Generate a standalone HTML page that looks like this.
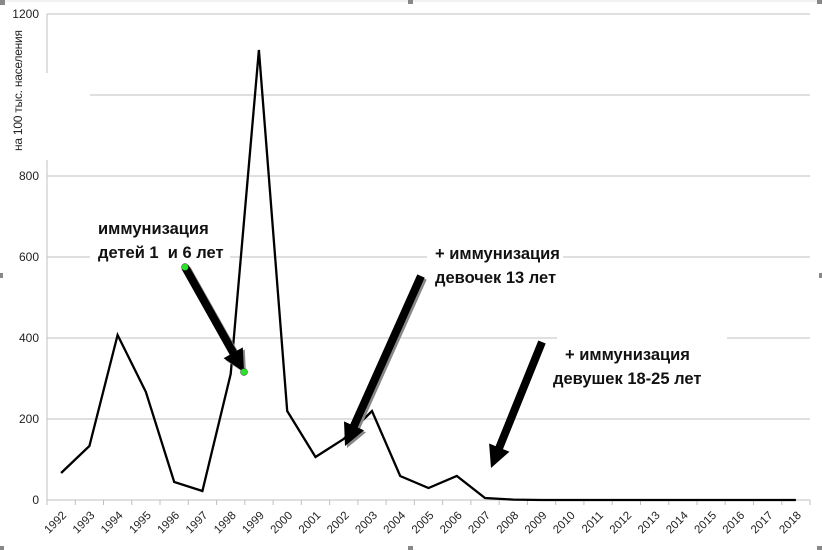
<!DOCTYPE html>
<html><head><meta charset="utf-8"><style>
html,body{margin:0;padding:0;background:#fff}
svg{display:block;font-family:"Liberation Sans",sans-serif}
.t{font-family:"Liberation Sans","DejaVu Sans",sans-serif;font-weight:bold;font-size:16.5px;fill:#111}
</style></head><body>
<svg width="822" height="550" viewBox="0 0 822 550" xmlns="http://www.w3.org/2000/svg">
<line x1="0" y1="1" x2="822" y2="1" stroke="#e4e4e4"/>
<g stroke="#c0c0c0" stroke-width="1">
<line x1="47" y1="14" x2="810" y2="14"/>
<line x1="47" y1="95" x2="810" y2="95"/>
<line x1="47" y1="176" x2="810" y2="176"/>
<line x1="47" y1="257" x2="810" y2="257"/>
<line x1="47" y1="338" x2="810" y2="338"/>
<line x1="47" y1="419" x2="810" y2="419"/>
<line x1="47" y1="500" x2="810" y2="500"/>
<line x1="47" y1="14" x2="47" y2="500"/>
</g>
<g stroke="#c0c0c0">
<line x1="47" y1="500" x2="47" y2="505"/><line x1="75.3" y1="500" x2="75.3" y2="505"/><line x1="103.5" y1="500" x2="103.5" y2="505"/><line x1="131.8" y1="500" x2="131.8" y2="505"/><line x1="160" y1="500" x2="160" y2="505"/><line x1="188.3" y1="500" x2="188.3" y2="505"/><line x1="216.6" y1="500" x2="216.6" y2="505"/><line x1="244.8" y1="500" x2="244.8" y2="505"/><line x1="273.1" y1="500" x2="273.1" y2="505"/><line x1="301.3" y1="500" x2="301.3" y2="505"/><line x1="329.6" y1="500" x2="329.6" y2="505"/><line x1="357.9" y1="500" x2="357.9" y2="505"/><line x1="386.1" y1="500" x2="386.1" y2="505"/><line x1="414.4" y1="500" x2="414.4" y2="505"/><line x1="442.6" y1="500" x2="442.6" y2="505"/><line x1="470.9" y1="500" x2="470.9" y2="505"/><line x1="499.2" y1="500" x2="499.2" y2="505"/><line x1="527.4" y1="500" x2="527.4" y2="505"/><line x1="555.7" y1="500" x2="555.7" y2="505"/><line x1="583.9" y1="500" x2="583.9" y2="505"/><line x1="612.2" y1="500" x2="612.2" y2="505"/><line x1="640.5" y1="500" x2="640.5" y2="505"/><line x1="668.7" y1="500" x2="668.7" y2="505"/><line x1="697" y1="500" x2="697" y2="505"/><line x1="725.2" y1="500" x2="725.2" y2="505"/><line x1="753.5" y1="500" x2="753.5" y2="505"/><line x1="781.8" y1="500" x2="781.8" y2="505"/><line x1="810" y1="500" x2="810" y2="505"/>
</g>
<rect x="10" y="73" width="80" height="87" fill="#fff"/>
<rect x="90" y="205" width="140" height="67" fill="#fff"/>
<rect x="427" y="238" width="136" height="52" fill="#fff"/>
<rect x="557" y="330" width="170" height="62" fill="#fff"/>
<g font-size="12" fill="#222" text-anchor="end">
<text x="39" y="18">1200</text><text x="39" y="180">800</text><text x="39" y="261">600</text><text x="39" y="342">400</text><text x="39" y="423">200</text><text x="39" y="504">0</text>
</g>
<text transform="translate(22,151) rotate(-90)" font-size="12" fill="#222" textLength="121">на 100 тыс. населения</text>
<polyline fill="none" stroke="#000" stroke-width="2.3" points="61.1,473 89.4,446 117.6,335 145.9,392 174.2,482 202.4,491 230.7,374 258.9,50 287.2,411 315.5,457 343.7,439 372,411 400.2,476 428.5,488 456.8,476 485,498 513.3,499.6 541.5,500 569.8,500 598.1,500 626.3,500 654.6,500 682.8,500 711.1,500 739.4,500 767.6,500 795.9,500"/>
<g font-size="11.5" fill="#222">
<text transform="translate(67,516) rotate(-45)" text-anchor="end">1992</text><text transform="translate(95.3,516) rotate(-45)" text-anchor="end">1993</text><text transform="translate(123.5,516) rotate(-45)" text-anchor="end">1994</text><text transform="translate(151.8,516) rotate(-45)" text-anchor="end">1995</text><text transform="translate(180,516) rotate(-45)" text-anchor="end">1996</text><text transform="translate(208.3,516) rotate(-45)" text-anchor="end">1997</text><text transform="translate(236.6,516) rotate(-45)" text-anchor="end">1998</text><text transform="translate(264.8,516) rotate(-45)" text-anchor="end">1999</text><text transform="translate(293.1,516) rotate(-45)" text-anchor="end">2000</text><text transform="translate(321.3,516) rotate(-45)" text-anchor="end">2001</text><text transform="translate(349.6,516) rotate(-45)" text-anchor="end">2002</text><text transform="translate(377.9,516) rotate(-45)" text-anchor="end">2003</text><text transform="translate(406.1,516) rotate(-45)" text-anchor="end">2004</text><text transform="translate(434.4,516) rotate(-45)" text-anchor="end">2005</text><text transform="translate(462.6,516) rotate(-45)" text-anchor="end">2006</text><text transform="translate(490.9,516) rotate(-45)" text-anchor="end">2007</text><text transform="translate(519.2,516) rotate(-45)" text-anchor="end">2008</text><text transform="translate(547.4,516) rotate(-45)" text-anchor="end">2009</text><text transform="translate(575.7,516) rotate(-45)" text-anchor="end">2010</text><text transform="translate(603.9,516) rotate(-45)" text-anchor="end">2011</text><text transform="translate(632.2,516) rotate(-45)" text-anchor="end">2012</text><text transform="translate(660.5,516) rotate(-45)" text-anchor="end">2013</text><text transform="translate(688.7,516) rotate(-45)" text-anchor="end">2014</text><text transform="translate(717,516) rotate(-45)" text-anchor="end">2015</text><text transform="translate(745.2,516) rotate(-45)" text-anchor="end">2016</text><text transform="translate(773.5,516) rotate(-45)" text-anchor="end">2017</text><text transform="translate(801.8,516) rotate(-45)" text-anchor="end">2018</text>
</g>
<text class="t" x="98" y="234">иммунизация</text>
<text class="t" x="98" y="258">детей 1&#160; и 6 лет</text>
<text class="t" x="435" y="259">+ иммунизация</text>
<text class="t" x="435" y="283">девочек 13 лет</text>
<text class="t" x="565" y="360">+ иммунизация</text>
<text class="t" x="553" y="384">девушек 18-25 лет</text>
<!-- arrows -->
<g transform="translate(2,2)" fill="#888">
<polygon points="181.5,269 188.5,265 236.7,350.8 242.8,347.4 244,372 223.6,358.2 229.7,354.8"/>
<polygon points="417.3,274.4 424.7,277.6 357.7,427.5 364,430.4 345,446 344,421.4 350.3,424.3"/>
</g>
<g fill="#000">
<polygon points="181.5,269 188.5,265 236.7,350.8 242.8,347.4 244,372 223.6,358.2 229.7,354.8"/>
<polygon points="417.3,274.4 424.7,277.6 357.7,427.5 364,430.4 345,446 344,421.4 350.3,424.3"/>
<polygon points="538.3,340.5 545.7,343.5 503,449.1 509.5,451.7 491,468 489.1,443.5 495.6,446.1"/>
</g>
<circle cx="185" cy="267" r="3.5" fill="#2be22b" stroke="#333" stroke-width="0.5"/>
<circle cx="244" cy="372" r="3.5" fill="#2be22b" stroke="#333" stroke-width="0.5"/>
<g fill="#888">
<rect x="0" y="0" width="5" height="5"/><rect x="408" y="0" width="5" height="4"/><rect x="817" y="0" width="5" height="4"/>
<rect x="0" y="273" width="3" height="5"/><rect x="0" y="546" width="4" height="4"/><rect x="408" y="546" width="5" height="4"/><rect x="817" y="546" width="5" height="4"/><rect x="819" y="273" width="3" height="5"/>
</g>
</svg>
</body></html>
